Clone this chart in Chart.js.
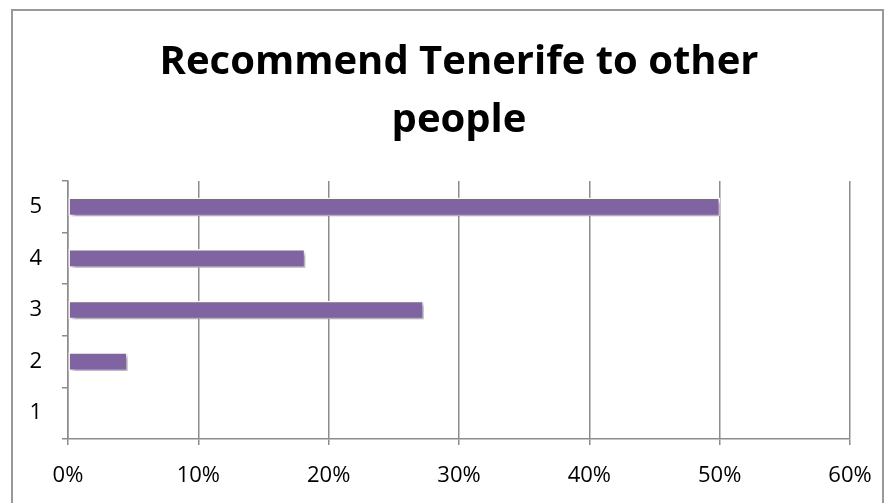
<!DOCTYPE html>
<html lang="en">

<head>
    <meta charset="UTF-8">
    <title>Recommend Tenerife to other people</title>
    <script src="https://cdn.jsdelivr.net/npm/chart.js"></script>
    <style>
        body { margin: 0; background: #fff; }
        .frame { position: absolute; left: 11px; top: 9px; width: 869px; height: 600px; border: 2px solid #999; }
        #wrap { position: absolute; left: 0; top: 0; width: 894px; height: 503px; }
    </style>
</head>

<body>
    <div class="frame"></div>
    <div id="wrap">
        <canvas id="barChart" width="894" height="503"></canvas>
    </div>

    <script>
        // answers on the 1-5 scale, share of respondents in percent
        const ratings = ['1', '2', '3', '4', '5'];
        const shares = [0, 4.55, 27.27, 18.18, 50];
        const xTicks = [0, 10, 20, 30, 40, 50, 60];

        const gridColor = '#8c8c8c';
        const tickFont = { family: 'Open Sans', size: 22 };

        // soft drop shadow under the bars
        const barShadow = {
            id: 'barShadow',
            beforeDatasetDraw(chart) {
                const ctx = chart.ctx;
                ctx.save();
                ctx.shadowColor = 'rgba(0,0,0,0.35)';
                ctx.shadowBlur = 4;
                ctx.shadowOffsetX = 3;
                ctx.shadowOffsetY = 3;
            },
            afterDatasetDraw(chart) {
                chart.ctx.restore();
            }
        };

        new Chart(document.getElementById('barChart').getContext('2d'), {
            type: 'bar',
            data: {
                labels: ratings,
                datasets: [{
                    data: shares,
                    backgroundColor: '#8064A2',
                    borderColor: '#ffffff',
                    borderWidth: 1.5,
                    borderSkipped: false,
                    barThickness: 18
                }]
            },
            options: {
                indexAxis: 'y',
                responsive: false,
                animation: false,
                layout: { padding: { left: 0, right: 44, top: 0, bottom: 0 } },
                plugins: {
                    legend: { display: false },
                    tooltip: { enabled: false },
                    title: {
                        display: true,
                        fullSize: false, // centred over the plot area
                        text: ['Recommend Tenerife to other', 'people'],
                        color: '#000',
                        font: { family: 'Open Sans', size: 40, weight: 'bold', lineHeight: 1.45 },
                        padding: { top: 34, bottom: 31 }
                    }
                },
                scales: {
                    x: {
                        min: 0,
                        max: 60,
                        afterBuildTicks(scale) {
                            scale.ticks = xTicks.map(v => ({ value: v }));
                        },
                        afterFit(scale) { scale.height = 64; },
                        ticks: {
                            color: '#000',
                            font: tickFont,
                            padding: 18,
                            callback: v => v + '%'
                        },
                        grid: { color: gridColor, lineWidth: 1.5, tickLength: 6 },
                        border: { color: gridColor, width: 1.5 }
                    },
                    y: {
                        reverse: true,
                        afterFit(scale) { scale.width = 68; },
                        ticks: { color: '#000', font: tickFont, padding: 20 },
                        grid: { drawOnChartArea: false, color: gridColor, lineWidth: 1.5, tickLength: 6, offset: true },
                        border: { color: gridColor, width: 1.5 }
                    }
                }
            },
            plugins: [barShadow]
        });
    </script>
</body>

</html>
